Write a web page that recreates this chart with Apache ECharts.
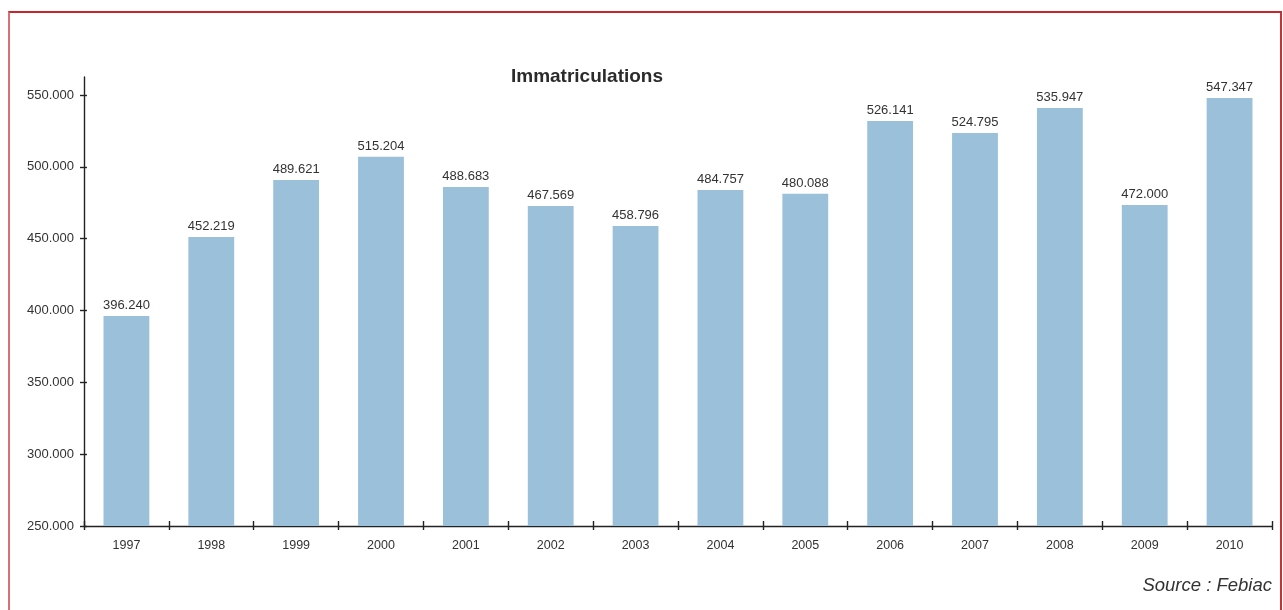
<!DOCTYPE html>
<html>
<head>
<meta charset="utf-8">
<script src="https://cdn.jsdelivr.net/npm/echarts@6/dist/echarts.min.js"></script>
<style>
  html, body { margin: 0; padding: 0; background: #fff; }
  #frame { position: absolute; left: 8px; top: 11px; width: 1274px; height: 620px;
           border-top: 2px solid #c8262c; border-right: 2px solid #cc3036; border-left: 2px solid #d8707a; border-bottom: none; box-sizing: border-box; }
  #chart { position: absolute; left: 0; top: 0; width: 1283px; height: 610px; }
</style>
</head>
<body>
<div id="frame"></div>
<div id="chart"></div>
<script>
// Categories (years)
const years = ['1997','1998','1999','2000','2001','2002','2003','2004','2005','2006','2007','2008','2009','2010'];
// Bar heights as drawn in the reference
const barValues = [396200, 451100, 490800, 507000, 485900, 472700, 458800, 483900, 481300, 531900, 523500, 540900, 473400, 547900];
// Data labels as printed above the bars
const valueLabels = ['396.240','452.219','489.621','515.204','488.683','467.569','458.796','484.757','480.088','526.141','524.795','535.947','472.000','547.347'];
// Y tick values
const yTicks = [250000, 300000, 350000, 400000, 450000, 500000, 550000];
const titleText = 'Immatriculations';
const sourceText = 'Source : Febiac';

const FONT = '"Liberation Sans", Arial, Helvetica, sans-serif';
const fmt = v => (v / 1000).toFixed(3);

const chart = echarts.init(document.getElementById('chart'), null, { renderer: 'canvas' });
chart.setOption({
  backgroundColor: 'transparent',
  animation: false,
  title: {
    text: titleText,
    left: 582,
    textAlign: 'center',
    top: 62,
    textStyle: { fontFamily: FONT, fontSize: 19, fontWeight: 'bold', color: '#2b2b2b' }
  },
  grid: { left: 84, right: 11, top: 77, bottom: 84, containLabel: false },
  xAxis: [{
    type: 'category',
    data: years,
    position: 'bottom',
    boundaryGap: true,
    axisLine: { show: true, lineStyle: { color: '#222', width: 1.4 } },
    axisTick: { show: true, inside: false, length: 4, lineStyle: { color: '#222', width: 1.4 } },
    axisLabel: { fontFamily: FONT, fontSize: 12.5, color: '#333', margin: 13 },
    splitLine: { show: false }
  }, {
    type: 'category',
    data: years,
    position: 'bottom',
    boundaryGap: true,
    axisLine: { show: false },
    axisTick: { show: true, inside: true, length: 5, lineStyle: { color: '#222', width: 1.4 } },
    axisLabel: { show: false },
    splitLine: { show: false }
  }],
  yAxis: [{
    type: 'value',
    position: 'left',
    min: 250000,
    max: 562500,
    interval: 50000,
    axisLine: { show: true, lineStyle: { color: '#222', width: 1.4 } },
    axisTick: { show: true, inside: false, length: 4, customValues: yTicks, lineStyle: { color: '#222', width: 1.4 } },
    axisLabel: { fontFamily: FONT, fontSize: 13, color: '#333', margin: 10, customValues: yTicks, formatter: fmt },
    splitLine: { show: false }
  }, {
    type: 'value',
    position: 'left',
    offset: 0,
    min: 250000,
    max: 562500,
    interval: 50000,
    axisLine: { show: false },
    axisTick: { show: true, inside: true, length: 3, customValues: yTicks, lineStyle: { color: '#222', width: 1.4 } },
    axisLabel: { show: false },
    splitLine: { show: false }
  }],
  series: [{
    type: 'bar',
    xAxisIndex: 0,
    yAxisIndex: 0,
    data: barValues,
    barWidth: '54%',
    itemStyle: { color: '#9ac0da' },
    label: {
      show: true,
      position: 'top',
      distance: 4,
      fontFamily: FONT,
      fontSize: 13,
      color: '#333',
      formatter: p => valueLabels[p.dataIndex]
    }
  }],
  graphic: [{
    type: 'text',
    right: 11,
    top: 576,
    style: { text: sourceText, font: 'italic 18.5px ' + FONT, fill: '#333' }
  }]
});
</script>
</body>
</html>
